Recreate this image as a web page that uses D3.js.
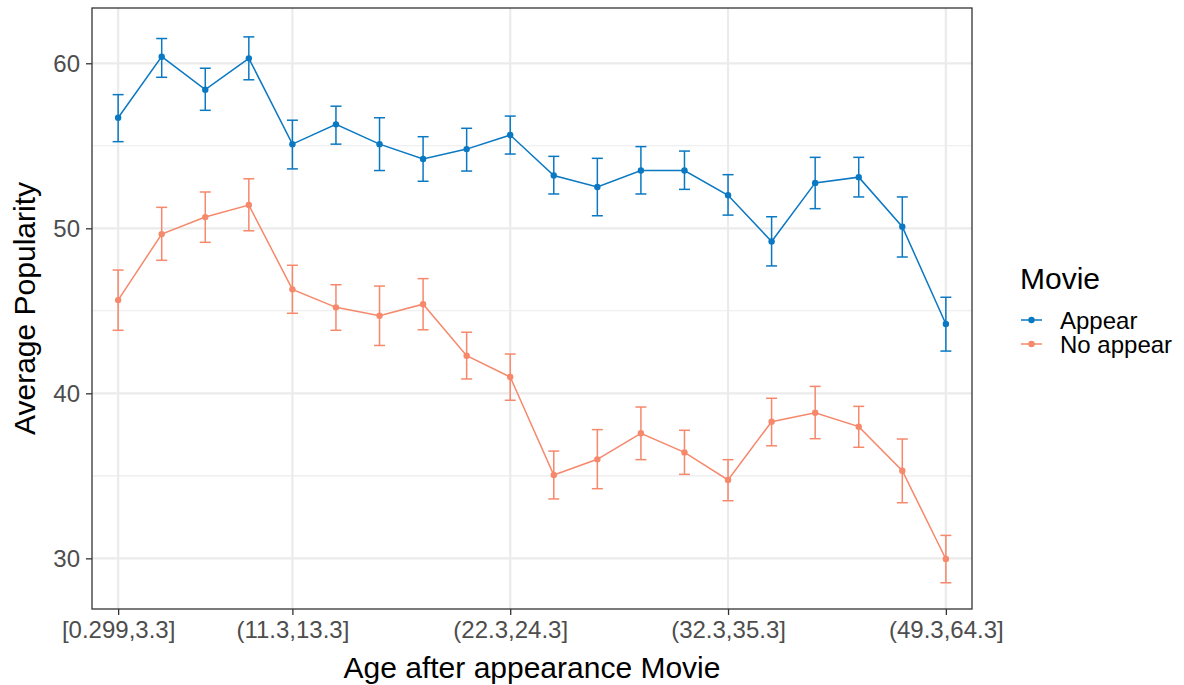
<!DOCTYPE html>
<html>
<head>
<meta charset="utf-8">
<script src="https://cdn.jsdelivr.net/npm/d3@7"></script>
<style>
body{margin:0;background:#fff;}
text{font-family:"Liberation Sans",Arial,sans-serif;}
</style>
</head>
<body>
<svg id="chart" width="1184" height="685"></svg>
<script>
// age bins (only every 5th label is printed on the axis)
var categories = ["[0.299,3.3]","(3.3,6.3]","(6.3,8.3]","(8.3,11.3]","(11.3,13.3]",
    "(13.3,15.3]","(15.3,17.3]","(17.3,20.3]","(20.3,22.3]","(22.3,24.3]",
    "(24.3,26.3]","(26.3,28.3]","(28.3,30.3]","(30.3,32.3]","(32.3,35.3]",
    "(35.3,38.3]","(38.3,41.3]","(41.3,45.3]","(45.3,49.3]","(49.3,64.3]"];
var shownTicks = ["[0.299,3.3]","(11.3,13.3]","(22.3,24.3]","(32.3,35.3]","(49.3,64.3]"];
var yTicks = [30,40,50,60];
var yMinor = [35,45,55];

var appearMean = [56.7,60.4,58.4,60.3,55.1,56.3,55.1,54.2,54.8,55.65,53.2,52.5,53.5,53.5,52.0,49.2,52.75,53.1,50.1,44.2];
var appearLow  = [55.25,59.15,57.15,59.0,53.6,55.1,53.5,52.85,53.47,54.5,52.08,50.76,52.08,52.36,50.8,47.72,51.19,51.9,48.26,42.56];
var appearHigh = [58.1,61.5,59.7,61.6,56.55,57.4,56.7,55.55,56.06,56.8,54.36,54.24,54.95,54.68,53.25,50.7,54.3,54.3,51.9,45.82];

var noMean = [45.65,49.65,50.68,51.41,46.3,45.21,44.7,45.4,42.28,40.99,35.05,36.0,37.58,36.42,34.75,38.28,38.82,37.98,35.31,29.96];
var noLow  = [43.82,48.06,49.15,49.85,44.85,43.82,42.9,43.85,40.87,39.58,33.6,34.22,35.98,35.09,33.49,36.82,37.25,36.73,33.37,28.52];
var noHigh = [47.47,51.27,52.2,53.0,47.76,46.58,46.5,46.95,43.7,42.38,36.5,37.8,39.17,37.76,35.98,39.7,40.42,39.21,37.23,31.39];

var seriesNames = ["Appear","No appear"];
var colors = ["#0A78C2","#F6886B"];

var svg = d3.select("#chart");
var pLeft = 92, pRight = 972, pTop = 8, pBottom = 609;

var x = d3.scalePoint().domain(categories).range([pLeft, pRight]).padding(0.6);
var y = d3.scaleLinear().domain([26.93, 63.35]).range([pBottom, pTop]);

// grid
var grid = svg.append("g");
grid.selectAll(".minor").data(yMinor).enter().append("line")
    .attr("x1",pLeft).attr("x2",pRight)
    .attr("y1",d=>y(d)).attr("y2",d=>y(d))
    .attr("stroke","#EBEBEB").attr("stroke-width",1.1);
grid.selectAll(".majy").data(yTicks).enter().append("line")
    .attr("x1",pLeft).attr("x2",pRight)
    .attr("y1",d=>y(d)).attr("y2",d=>y(d))
    .attr("stroke","#EBEBEB").attr("stroke-width",2.2);
grid.selectAll(".majx").data(shownTicks).enter().append("line")
    .attr("x1",d=>x(d)).attr("x2",d=>x(d))
    .attr("y1",pTop).attr("y2",pBottom)
    .attr("stroke","#EBEBEB").attr("stroke-width",2.2);

var series = [
    {name:seriesNames[0], mean:appearMean, lo:appearLow, hi:appearHigh, color:colors[0]},
    {name:seriesNames[1], mean:noMean, lo:noLow, hi:noHigh, color:colors[1]}
];

var line = d3.line().x((d,i)=>x(categories[i])).y(d=>y(d));
var capW = 5.5;

series.forEach(function(s){
    var g = svg.append("g");
    g.append("path").datum(s.mean)
        .attr("d",line).attr("fill","none")
        .attr("stroke",s.color).attr("stroke-width",1.5);
    var eb = g.selectAll(".eb").data(s.mean).enter().append("g");
    eb.append("line")
        .attr("x1",(d,i)=>x(categories[i])).attr("x2",(d,i)=>x(categories[i]))
        .attr("y1",(d,i)=>y(s.lo[i])).attr("y2",(d,i)=>y(s.hi[i]))
        .attr("stroke",s.color).attr("stroke-width",1.5);
    eb.append("line")
        .attr("x1",(d,i)=>x(categories[i])-capW).attr("x2",(d,i)=>x(categories[i])+capW)
        .attr("y1",(d,i)=>y(s.lo[i])).attr("y2",(d,i)=>y(s.lo[i]))
        .attr("stroke",s.color).attr("stroke-width",1.5);
    eb.append("line")
        .attr("x1",(d,i)=>x(categories[i])-capW).attr("x2",(d,i)=>x(categories[i])+capW)
        .attr("y1",(d,i)=>y(s.hi[i])).attr("y2",(d,i)=>y(s.hi[i]))
        .attr("stroke",s.color).attr("stroke-width",1.5);
    g.selectAll(".pt").data(s.mean).enter().append("circle")
        .attr("cx",(d,i)=>x(categories[i])).attr("cy",d=>y(d))
        .attr("r",3.2).attr("fill",s.color);
});

// panel border
svg.append("rect").attr("x",pLeft).attr("y",pTop)
    .attr("width",pRight-pLeft).attr("height",pBottom-pTop)
    .attr("fill","none").attr("stroke","#333333").attr("stroke-width",1.3);

// axes
var xAxis = svg.append("g").attr("transform","translate(0,"+pBottom+")")
    .call(d3.axisBottom(x).tickValues(shownTicks).tickSize(6).tickPadding(4));
var yAxis = svg.append("g").attr("transform","translate("+pLeft+",0)")
    .call(d3.axisLeft(y).tickValues(yTicks).tickSize(6).tickPadding(6));
[xAxis,yAxis].forEach(function(a){
    a.select(".domain").remove();
    a.selectAll(".tick line").attr("stroke","#333333").attr("stroke-width",1.3);
    a.selectAll(".tick text").attr("fill","#4D4D4D")
        .style("font-size","24px").style("font-family","'Liberation Sans',Arial,sans-serif");
});
xAxis.selectAll(".tick text").attr("dy","0.8em");
yAxis.selectAll(".tick text").attr("dy","0.36em");

svg.append("text").attr("x",(pLeft+pRight)/2).attr("y",678)
    .attr("text-anchor","middle").style("font-size","30px").attr("fill","#000")
    .text("Age after appearance Movie");
svg.append("text").attr("transform","translate(35,"+((pTop+pBottom)/2)+") rotate(-90)")
    .attr("text-anchor","middle").style("font-size","30px").attr("fill","#000")
    .text("Average Popularity");

// legend
var leg = svg.append("g").attr("transform","translate(1020,0)");
leg.append("text").attr("x",0).attr("y",289).style("font-size","30px").attr("fill","#000").text("Movie");
series.forEach(function(s,i){
    var yy = 320 + i*24;
    leg.append("line").attr("x1",1).attr("x2",22).attr("y1",yy).attr("y2",yy)
        .attr("stroke",s.color).attr("stroke-width",1.5);
    leg.append("circle").attr("cx",11.5).attr("cy",yy).attr("r",3.2).attr("fill",s.color);
    leg.append("text").attr("x",40).attr("y",yy+8.5).style("font-size","24px").attr("fill","#000").text(s.name);
});
</script>
</body>
</html>
